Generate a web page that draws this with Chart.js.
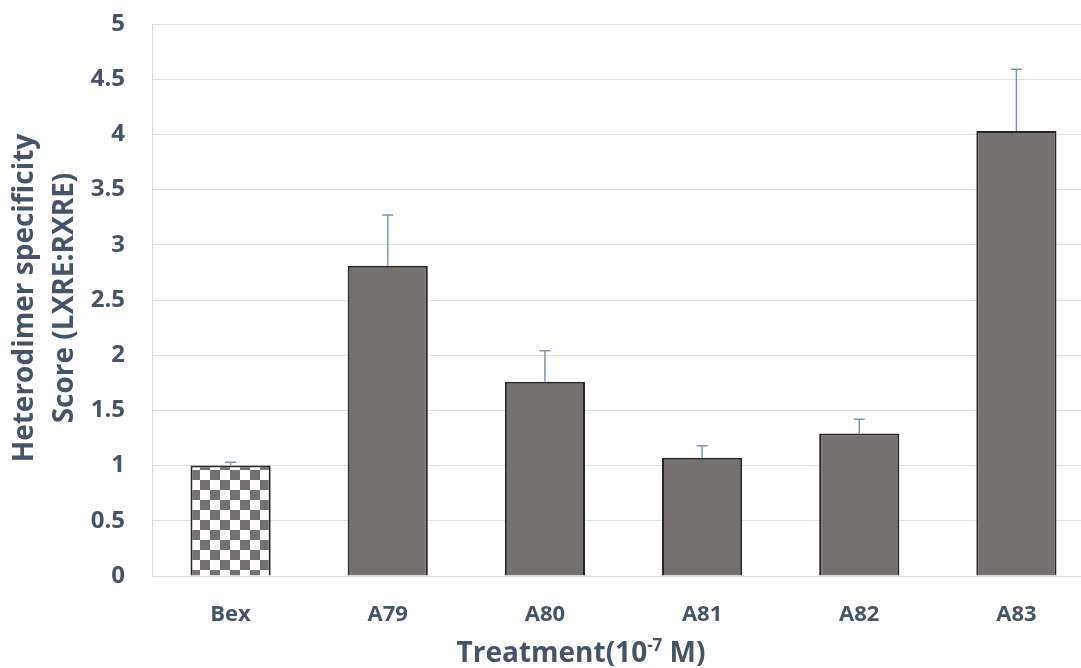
<!DOCTYPE html>
<html>
<head>
<meta charset="utf-8">
<script src="https://cdn.jsdelivr.net/npm/chart.js@4"></script>
<style>
  html, body { margin: 0; padding: 0; background: #fff; overflow: hidden; }
  #wrap { position: relative; width: 1096px; height: 668px; }
</style>
</head>
<body>
<div id="wrap"><canvas id="chart"></canvas></div>
<script>
const categories = ['Bex', 'A79', 'A80', 'A81', 'A82', 'A83'];
const scores = [1.00, 2.81, 1.76, 1.07, 1.29, 4.03];
const errUp = [0.03, 0.46, 0.28, 0.11, 0.13, 0.56];
const yTicks = [0, 0.5, 1, 1.5, 2, 2.5, 3, 3.5, 4, 4.5, 5];

const TEXT = '#44546a';
const FONT = '"Open Sans", Arial, sans-serif';

/* Checkered fill for the Bex reference bar */
function checker() {
  const c = document.createElement('canvas');
  c.width = 20; c.height = 20;
  const g = c.getContext('2d');
  g.fillStyle = '#ffffff';
  g.fillRect(0, 0, 20, 20);
  g.fillStyle = '#767171';
  g.fillRect(0, 0, 10, 10);
  g.fillRect(10, 10, 10, 10);
  return document.getElementById('chart').getContext('2d').createPattern(c, 'repeat');
}

const fills = categories.map(function (c, i) { return i === 0 ? checker() : '#767171'; });

/* Upper error bars */
const errorBars = {
  id: 'errorBars',
  afterDatasetsDraw: function (chart) {
    const ctx = chart.ctx;
    const y = chart.scales.y;
    const meta = chart.getDatasetMeta(0);
    ctx.save();
    ctx.strokeStyle = '#7f95b1';
    ctx.lineWidth = 1.5;
    meta.data.forEach(function (bar, i) {
      const top = y.getPixelForValue(scores[i] + errUp[i]);
      ctx.beginPath();
      ctx.moveTo(bar.x, bar.y);
      ctx.lineTo(bar.x, top);
      ctx.moveTo(bar.x - 5.5, top);
      ctx.lineTo(bar.x + 5.5, top);
      ctx.stroke();
    });
    ctx.restore();
  }
};

/* Axis titles, x title carries a superscript */
const axisTitles = {
  id: 'axisTitles',
  afterDraw: function (chart) {
    const ctx = chart.ctx;
    ctx.save();
    ctx.fillStyle = TEXT;
    ctx.textBaseline = 'alphabetic';

    // y title, two lines
    ctx.save();
    ctx.translate(0, 298);
    ctx.rotate(-Math.PI / 2);
    ctx.textAlign = 'center';
    ctx.font = 'bold 28px ' + FONT;
    ctx.fillText('Heterodimer specificity', 0, 33);
    ctx.fillText('Score (LXRE:RXRE)', 0, 73);
    ctx.restore();

    // x title
    const big = 'bold 28px ' + FONT;
    const small = 'bold 17px ' + FONT;
    const parts = [['Treatment(10', big, 0], ['-7', small, -11], [' M)', big, 0]];
    let total = 0;
    parts.forEach(function (p) { ctx.font = p[1]; total += ctx.measureText(p[0]).width; });
    let x = 581 - total / 2;
    ctx.textAlign = 'left';
    parts.forEach(function (p) {
      ctx.font = p[1];
      ctx.fillText(p[0], x, 662 + p[2]);
      x += ctx.measureText(p[0]).width;
    });
    ctx.restore();
  }
};

new Chart(document.getElementById('chart'), {
  type: 'bar',
  data: {
    labels: categories,
    datasets: [{
      data: scores,
      backgroundColor: fills,
      borderColor: '#262626',
      borderWidth: 2,
      borderSkipped: 'bottom',
      barPercentage: 0.51,
      categoryPercentage: 1
    }]
  },
  options: {
    responsive: true,
    maintainAspectRatio: false,
    animation: false,
    layout: { padding: { top: 24, right: 1, bottom: 0, left: 0 } },
    plugins: { legend: { display: false }, tooltip: { enabled: false } },
    scales: {
      x: {
        grid: { display: false, drawTicks: false },
        border: { color: '#d9d9d9' },
        ticks: { color: TEXT, font: { family: FONT, size: 22, weight: 'bold' }, padding: 26 },
        afterFit: function (s) { s.height = 92; }
      },
      y: {
        min: 0,
        max: 5,
        afterBuildTicks: function (s) { s.ticks = yTicks.map(function (v) { return { value: v }; }); },
        grid: { color: '#dde1e7', drawTicks: true, tickLength: 21, tickColor: 'rgba(0,0,0,0)' },
        border: { color: '#d9d9d9' },
        ticks: {
          color: TEXT,
          font: { family: FONT, size: 24, weight: 'bold' },
          padding: 6,
          callback: function (v) { return String(v); }
        },
        afterFit: function (s) { s.width = 152; }
      }
    }
  },
  plugins: [errorBars, axisTitles]
});
</script>
</body>
</html>
